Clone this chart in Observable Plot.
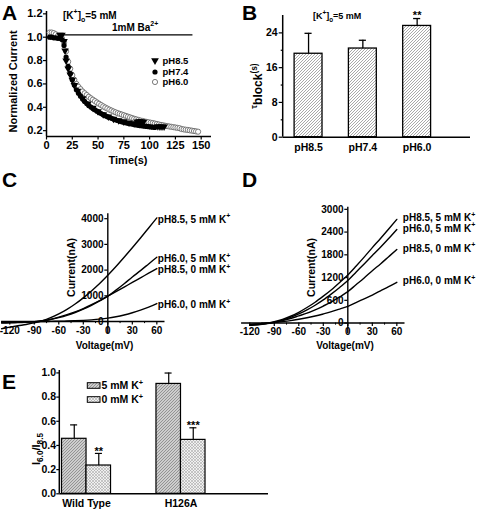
<!DOCTYPE html>
<html><head><meta charset="utf-8">
<script src="https://cdn.jsdelivr.net/npm/d3@7"></script>
<script src="https://cdn.jsdelivr.net/npm/@observablehq/plot@0.6"></script>
<style>
body{margin:0;background:#fff;}
#fig{position:relative;width:477px;height:509px;overflow:hidden;background:#fff;}
</style></head><body>
<div id="fig"></div>
<script>
// ---------- Panel A: normalized current vs time ----------
const timeA85 = [13,15,17,18,19,21,23,25,27,30,35,40,45,50,55,60,65,70,75,80,85,88,90,92,94,108,110,112,114];
const currA85 = [1.02,1.02,0.965,0.885,0.80,0.73,0.68,0.635,0.59,0.54,0.475,0.43,0.395,0.365,0.34,0.32,0.30,0.288,0.278,0.268,0.262,0.276,0.279,0.278,0.275,0.236,0.235,0.235,0.234];
const timeA74 = [3,5,7,9,11,13,15,17,19,21,23,25,27,29,31,33,35,37,39,41,43,45,47,49,51,53,55,57,59,61,63,65,67,69,71,73,75,77,79,81,83,85,87,89,91,93,95,97,99,101,103,105];
const currA74 = [1.0,1.0,0.995,0.995,0.99,0.99,0.98,0.93,0.83,0.75,0.69,0.635,0.59,0.55,0.52,0.495,0.47,0.45,0.432,0.416,0.402,0.39,0.378,0.367,0.356,0.346,0.337,0.328,0.32,0.313,0.306,0.299,0.293,0.287,0.281,0.276,0.271,0.267,0.263,0.259,0.256,0.252,0.249,0.246,0.243,0.241,0.238,0.236,0.234,0.232,0.23,0.228];
const timeA60 = [3,5,7,9,11,13,15,17,19,21,23,25,27,29,31,33,35,37,39,41,43,45,47,49,51,53,55,57,59,61,63,65,67,69,71,73,75,77,79,81,83,85,87,89,91,93,95,97,99,101,103,105,107,109,111,113,115,117,119,121,123,125,127,129,131,133,135,137,139,141,143,145,147];
const currA60 = [1.04,1.04,1.035,1.025,1.01,1.0,0.99,0.955,0.88,0.79,0.73,0.675,0.635,0.6,0.575,0.555,0.535,0.52,0.505,0.49,0.477,0.465,0.453,0.441,0.43,0.419,0.408,0.398,0.389,0.38,0.372,0.364,0.357,0.35,0.344,0.338,0.332,0.326,0.32,0.314,0.308,0.302,0.297,0.292,0.287,0.283,0.279,0.275,0.272,0.268,0.265,0.261,0.257,0.253,0.249,0.246,0.242,0.239,0.236,0.233,0.23,0.227,0.224,0.221,0.214,0.211,0.208,0.206,0.203,0.2,0.197,0.194,0.191];
const baBar = {start: 15, end: 142, level: 1.02};
const xTicksA = [0,25,50,75,100,125,150];
const yTicksA = [0.2,0.4,0.6,0.8,1.0,1.2];

// ---------- Panel B: tau block ----------
const phLabels = ["pH8.5","pH7.4","pH6.0"];
const tauBlock = [19.2, 20.4, 25.6];
const tauErr = [4.7, 1.9, 1.7];
const tauSig = ["", "", "**"];
const yTicksB = [0,8,16,24];
const yMinorB = [4,12,20];

// ---------- Panels C & D: I-V curves ----------
const voltC = [-130,-120,-110,-100,-90,-80,-70,-60,-50,-40,-30,-20,-10,0,10,20,30,40,50,60];
const curC85_5 = [-280,-220,-165,-115,-55,30,150,300,470,680,920,1190,1480,1800,2140,2500,2870,3250,3640,4030];
const curC60_5 = [-58,-52,-45,-35,-15,20,75,150,240,350,480,630,800,985,1220,1470,1730,1980,2240,2500];
const curC85_0 = [-42,-38,-32,-22,-5,30,90,170,265,375,505,655,815,985,1160,1340,1520,1700,1880,2060];
const curC60_0 = [-17,-14,-11,-8,-4,0,5,11,19,30,45,65,92,130,185,255,340,440,560,700];
const voltD = [-120,-110,-100,-90,-80,-70,-60,-50,-40,-30,-20,-10,0,10,20,30,40,50,60];
const curD85_5 = [-60,-42,-12,35,95,180,285,410,550,710,880,1070,1270,1500,1740,1990,2230,2480,2735];
const curD60_5 = [-62,-48,-22,18,75,150,240,345,470,610,770,940,1120,1340,1560,1780,2000,2230,2470];
const curD85_0 = [-40,-26,-6,25,65,120,190,260,350,450,560,690,830,1010,1190,1380,1560,1750,1940];
const curD60_0 = [-35,-22,-6,15,38,65,100,140,185,240,300,370,440,540,640,740,850,960,1075];
const ivLabels = ["pH8.5, 5 mM K","pH6.0, 5 mM K","pH8.5, 0 mM K","pH6.0, 0 mM K"];
const xTicksIV = [-120,-90,-60,-30,0,30,60];
const xMinorIV = [-105,-75,-45,-15,15,45];
const yTicksC = [0,1000,2000,3000,4000];
const yTicksD = [0,600,1200,1800,2400,3000];

// ---------- Panel E: I6.0/I8.5 ----------
const genotypes = ["Wild Type","H126A"];
const ratio5K = [0.455, 0.909];
const err5K = [0.115, 0.09];
const ratio0K = [0.234, 0.446];
const err0K = [0.10, 0.10];
const sig0K = ["**","***"];
const yTicksE = [0,0.2,0.4,0.6,0.8,1.0];

// ---------------------------------------------------------
const FONT = '"Liberation Sans", Arial, Helvetica, sans-serif';
const fig = document.getElementById("fig");
fig.innerHTML = `<svg width="0" height="0" style="position:absolute;left:0;top:0"><defs>
<pattern id="hatchB" patternUnits="userSpaceOnUse" width="3" height="3">
<rect width="3" height="3" fill="#fff"/>
<path d="M-1,1 L1,-1 M0,3 L3,0 M2,4 L4,2" stroke="#6e6e6e" stroke-width="0.6"/></pattern>
<pattern id="hatchE" patternUnits="userSpaceOnUse" width="3" height="3">
<rect width="3" height="3" fill="#cdcdcd"/>
<path d="M-1,1 L1,-1 M0,3 L3,0 M2,4 L4,2" stroke="#7a7a7a" stroke-width="0.7"/></pattern>
<pattern id="crossE" patternUnits="userSpaceOnUse" width="3" height="3">
<rect width="3" height="3" fill="#f0f0f0"/>
<path d="M0,0 L3,3 M0,3 L3,0" stroke="#a2a2a2" stroke-width="0.55"/></pattern>
</defs></svg>`;

const st = fs => ({background:"transparent", fontFamily: FONT, fontSize: fs+"px", fontWeight:"bold", color:"black", overflow:"visible"});
function place(node, left, top){ node.style.position="absolute"; node.style.left=left+"px"; node.style.top=top+"px"; fig.appendChild(node); return node; }
function leftLine(svg, ml, mt, h, mb){
  d3.select(svg).append("line").attr("x1",ml).attr("x2",ml).attr("y1",mt).attr("y2",h-mb)
    .attr("stroke","black").attr("stroke-width",1.5);
}

// Panel A
const ptsA60 = timeA60.map((t,i)=>({t, v: currA60[i]}));
const ptsA74 = timeA74.map((t,i)=>({t, v: currA74[i]}));
const ptsA85 = timeA85.map((t,i)=>({t, v: currA85[i]}));
const plotA = Plot.plot({
  width:240, height:170, marginLeft:46, marginRight:29, marginTop:11, marginBottom:34,
  style: st(11),
  x:{domain:[0,160], label:null}, y:{domain:[0.15,1.22], label:null},
  marks:[
    Plot.axisX(xTicksA, {tickSize:3.5, tickPadding:1.5, strokeWidth:1.2, label:null}),
    Plot.axisY(yTicksA, {tickSize:3, tickPadding:1, strokeWidth:1.2, tickFormat:d3.format(".1f"), label:null}),
    Plot.ruleX([0], {strokeWidth:1.5}),
    Plot.ruleY([0.15], {strokeWidth:1.5}),
    Plot.ruleY([baBar.level], {x1: baBar.start, x2: baBar.end, strokeWidth:1.2}),
    Plot.dot(ptsA60, {x:"t", y:"v", r:2.6, fill:"white", stroke:"#5a5a5a", strokeWidth:0.8}),
    Plot.dot(ptsA74, {x:"t", y:"v", r:2.6, fill:"black", stroke:"none"}),
    Plot.dot(ptsA85, {x:"t", y:"v", r:2.8, symbol:"triangle", rotate:180, fill:"black", stroke:"none"})
  ]
});
place(plotA, 0, 0);

// Panel B
const dB = phLabels.map((p,i)=>({p, v:tauBlock[i], e:tauErr[i], s:tauSig[i]}));
const plotB = Plot.plot({
  width:237, height:160, marginLeft:42.7, marginRight:7, marginTop:15, marginBottom:23.3,
  style: st(10.5),
  x:{domain:phLabels, range:[42.7,202], paddingInner:0.486, paddingOuter:0.21, round:false, label:null},
  y:{domain:[0,28], label:null},
  marks:[
    Plot.barY(dB, {x:"p", y:"v", fill:"url(#hatchB)", stroke:"black", strokeWidth:1.3}),
    Plot.ruleX(dB, {x:"p", y1:"v", y2:d=>d.v+d.e, strokeWidth:1.3}),
    Plot.tickY(dB, {x:"p", y:d=>d.v+d.e, insetLeft:10.4, insetRight:10.4, strokeWidth:1.3}),
    Plot.text(dB, {x:"p", y:d=>d.v+d.e, text:"s", dy:-3, fontSize:11}),
    Plot.axisY(yTicksB, {tickSize:4, tickPadding:1.5, strokeWidth:1.2, label:null}),
    Plot.axisY(yMinorB, {tickSize:2, tickFormat:()=>"", strokeWidth:1.2, label:null}),
    Plot.axisX({tickSize:0, tickPadding:6, label:null}),
    Plot.ruleY([0], {strokeWidth:1.5})
  ]
});
leftLine(plotB, 42.7, 15, 160, 23.3);
place(plotB, 240, 0);

// Panels C and D
function ivPlot(volt, series, o){
  const data = series.flatMap((vals,k)=>volt.map((v,i)=>({s:k, v, c:vals[i]})));
  const tx = 3.7, ty = o.tyLen, tmy = o.tyLen*0.6;
  return Plot.plot({
    width:o.w, height:160, marginLeft:1.1, marginRight:o.mr, marginTop:o.mt, marginBottom:o.mb,
    style: st(10),
    x:{domain:[-130,70], axis:null}, y:{domain:o.yDomain, axis:null},
    marks:[
      Plot.ruleY([0], {strokeWidth:1.4}),
      Plot.ruleX([0], {strokeWidth:1.4}),
      Plot.ruleY(o.yTicks, {y:d=>d, x1:-tx, x2:0, strokeWidth:1.2}),
      Plot.ruleX(xTicksIV, {x:d=>d, y1:0, y2:-ty, strokeWidth:1.2}),
      Plot.ruleX(xMinorIV, {x:d=>d, y1:0, y2:-tmy, strokeWidth:1}),
      Plot.text(o.yTicks, {x:0, y:d=>d, text:d=>String(d), textAnchor:"end", dx:-4.3}),
      Plot.text(xTicksIV, {x:d=>d, y:0, text:d=>String(d), dy:9}),
      Plot.line(data, {x:"v", y:"c", z:"s", curve:"monotone-x", stroke:"black", strokeWidth:1.4})
    ]
  });
}
const seriesC = [curC85_5, curC60_5, curC85_0, curC60_0];
const seriesD = [curD85_5, curD60_5, curD85_0, curD60_0];
const plotC = ivPlot(voltC, seriesC, {w:240, mr:75.5, mt:13.3, mb:26.9, yDomain:[-470,4190], yTicks:yTicksC, tyLen:136});
place(plotC, 0, 200);
const plotD = ivPlot(voltD, seriesD, {w:237, mr:72.5, mt:6.7, mb:26.7, yDomain:[-283,3056], yTicks:yTicksD, tyLen:92});
place(plotD, 240, 200);

// Panel E
const dE = genotypes.map((g,i)=>({g, v5:ratio5K[i], e5:err5K[i], v0:ratio0K[i], e0:err0K[i], s:sig0K[i]}));
const plotE = Plot.plot({
  width:280, height:169, marginLeft:59.3, marginRight:12, marginTop:30, marginBottom:15.7,
  style: st(10.5),
  x:{domain:genotypes, range:[59.3,207.2], paddingInner:0.481, paddingOuter:0.0233, round:false, label:null},
  y:{domain:[0,1.02], label:null},
  marks:[
    Plot.barY(dE, {x:"g", y:"v5", fill:"url(#hatchE)", stroke:"black", strokeWidth:1.2, insetRight:24.5}),
    Plot.barY(dE, {x:"g", y:"v0", fill:"url(#crossE)", stroke:"black", strokeWidth:1.2, insetLeft:24.5}),
    Plot.ruleX(dE, {x:"g", y1:"v5", y2:d=>d.v5+d.e5, dx:-12.26, strokeWidth:1.2}),
    Plot.ruleX(dE, {x:"g", y1:"v0", y2:d=>d.v0+d.e0, dx:12.26, strokeWidth:1.2}),
    Plot.tickY(dE, {x:"g", y:d=>d.v5+d.e5, insetLeft:8.6, insetRight:33.4, strokeWidth:1.2}),
    Plot.tickY(dE, {x:"g", y:d=>d.v0+d.e0, insetLeft:33.4, insetRight:8.6, strokeWidth:1.2}),
    Plot.text(dE, {x:"g", y:d=>d.v0+d.e0, text:"s", dx:12.26, dy:-2, fontSize:11}),
    Plot.axisY(yTicksE, {tickSize:3, tickPadding:0.8, strokeWidth:1.2, tickFormat:d3.format(".1f"), label:null}),
    Plot.axisX({tickSize:0, tickPadding:6, label:null}),
    Plot.ruleY([0], {strokeWidth:1.5})
  ]
});
leftLine(plotE, 59.3, 30, 169, 15.7);
place(plotE, 0, 340);

// ---------- overlay text (titles, labels, legends) ----------
const ov = d3.select(fig).append("svg").attr("width",477).attr("height",509)
  .style("position","absolute").style("left","0px").style("top","0px").style("overflow","visible");
function rich(g, x, y, parts, o={}){
  const size = o.size || 11, sc = o.sc || 0.7;
  const t = g.append("text").attr("font-family",FONT).attr("font-weight",o.weight||"bold")
    .attr("font-size",size).attr("text-anchor",o.anchor||"start").attr("fill","black")
    .attr("transform",`translate(${x},${y})` + (o.rotate ? ` rotate(${o.rotate})` : ""));
  let shift = 0;
  parts.forEach((p,i)=>{
    const str = Array.isArray(p) ? p[0] : p, kind = Array.isArray(p) ? (p[1]||"n") : "n";
    const target = kind==="sup" ? -0.42*size : kind==="sub" ? 0.3*size : 0;
    t.append("tspan").text(str).attr("font-size", kind==="n" ? size : size*sc)
      .attr("dy", (i===0 ? 0.36*size : 0) + target - shift);
    shift = target;
  });
  return t;
}
// panel letters
[["A",2,19.5],["B",242,19.5],["C",2,186.5],["D",242,186.5],["E",2,388.5]].forEach(([L,x,y])=>{
  ov.append("text").attr("x",x).attr("y",y).attr("font-family",FONT).attr("font-weight","bold")
    .attr("font-size",21).text(L);
});
// A texts
rich(ov, 13, 81.5, ["Normalized Current"], {size:11, anchor:"middle", rotate:-90});
rich(ov, 128, 159.7, ["Time(s)"], {size:11, anchor:"middle"});
rich(ov, 63, 15, ["[K",["+","sup"],"]",["o","sub"],"=5 mM"], {size:10});
rich(ov, 112, 27, ["1mM Ba",["2+","sup"]], {size:10});
const legA = [["pH8.5",61],["pH7.4",72],["pH6.0",82]];
ov.append("path").attr("d", d3.symbol(d3.symbolTriangle, 26)()).attr("transform","translate(155,60.5) rotate(180)").attr("fill","black");
ov.append("circle").attr("cx",155).attr("cy",72).attr("r",2.6).attr("fill","black");
ov.append("circle").attr("cx",155).attr("cy",82).attr("r",2.6).attr("fill","white").attr("stroke","#5a5a5a").attr("stroke-width",0.8);
legA.forEach(([s,y])=>rich(ov, 162.5, y, [s], {size:9.5}));
// B texts
rich(ov, 258, 86, [["τ","sup"],"block",["(s)","sup"]], {size:12, anchor:"middle", rotate:-90});
rich(ov, 313, 16, ["[K",["+","sup"],"]",["o","sub"],"=5 mM"], {size:9});
// C, D texts
rich(ov, 71.7, 267.5, ["Current(nA)"], {size:10.5, anchor:"middle", rotate:-90});
rich(ov, 311.7, 267.5, ["Current(nA)"], {size:10.5, anchor:"middle", rotate:-90});
rich(ov, 104.5, 345, ["Voltage(mV)"], {size:10, anchor:"middle"});
rich(ov, 345, 345, ["Voltage(mV)"], {size:10, anchor:"middle"});
function ivLabelsDraw(plot, left, top, volt, series, dx, dy){
  const sx = plot.scale("x"), sy = plot.scale("y");
  series.forEach((vals,k)=>{
    const x = left + sx.apply(volt[volt.length-1]) + dx;
    const y = top + sy.apply(vals[vals.length-1]) + dy;
    rich(ov, x, y, [ivLabels[k],["+","sup"]], {size:10});
  });
}
ivLabelsDraw(plotC, 0, 200, voltC, seriesC, 1.5, 1.5);
ivLabelsDraw(plotD, 240, 200, voltD, seriesD, 6.5, -1);
// E texts
rich(ov, 36, 449, ["I",["6.0","sub"],"/I",["8.5","sub"]], {size:11, anchor:"middle", rotate:-90, sc:0.75});
ov.append("rect").attr("x",87.3).attr("y",382.7).attr("width",12.7).attr("height",5.6).attr("fill","url(#hatchE)").attr("stroke","black").attr("stroke-width",1);
ov.append("rect").attr("x",87.3).attr("y",396.7).attr("width",12.7).attr("height",5.6).attr("fill","url(#crossE)").attr("stroke","black").attr("stroke-width",1);
rich(ov, 101.5, 385.5, ["5 mM K",["+","sup"]], {size:10.5});
rich(ov, 101.5, 399.5, ["0 mM K",["+","sup"]], {size:10.5});
</script>
</body></html>
